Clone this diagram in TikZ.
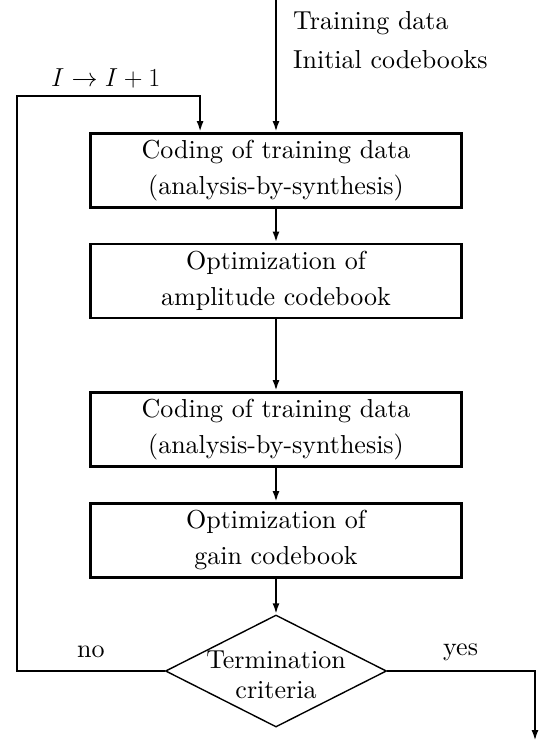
\RequirePackage{fix-cm}
\documentclass[tikz,border=0pt]{standalone}
\usepackage{fontspec}
\setmainfont{lmroman10-regular.otf}
\usetikzlibrary{arrows.meta,shapes.geometric}
\begin{document}
\begin{tikzpicture}[x=1pt,y=-1pt,
  font=\fontsize{26}{36}\selectfont,
  stepbox/.style={draw,line width=2.8pt,minimum width=371pt,minimum height=74pt,inner sep=0pt,align=center},
  conn/.style={line width=2.4pt,-{Latex[length=11pt,width=7pt]}},
  lbl/.style={anchor=base west,inner sep=0pt},
]
\useasboundingbox (0,0) rectangle (548,742);
\node[stepbox] (b1) at (276,170.5) {Coding of training data\\(analysis-by-synthesis)};
\node[stepbox] (b2) at (276,281) {Optimization of\\amplitude codebook};
\node[stepbox] (b3) at (276,429.5) {Coding of training data\\(analysis-by-synthesis)};
\node[stepbox] (b4) at (276,540.5) {Optimization of\\gain codebook};
\node[diamond,draw,line width=1.4pt,minimum width=221pt,minimum height=112pt,inner sep=0pt] (dia) at (276,671) {};
\node[align=center,inner sep=0pt,font=\fontsize{26}{30}\selectfont] (dtext) at (276,675) {Termination\\criteria};
\coordinate (in) at (276,0);
\coordinate (lt) at (17,96);
\coordinate (out) at (535,741);
\node[lbl] (t1) at (293,29.5) {Training data};
\node[lbl] (t2) at (293,68.3) {Initial codebooks};
\node[lbl] (t3) at (51,86) {$I\to I+1$};
\node[lbl] (tno) at (77,657) {no};
\node[lbl] (tyes) at (443,655) {yes};
\draw[conn] (in) -- (b1.north);
\draw[conn] (b1) -- (b2);
\draw[conn] (b2) -- (b3);
\draw[conn] (b3) -- (b4);
\draw[conn] (b4) -- (dia.north);
\draw[conn] (dia.west) -| (lt) -| ([xshift=111pt]b1.north west);
\draw[conn] (dia.east) -| (out);
\end{tikzpicture}
\end{document}
